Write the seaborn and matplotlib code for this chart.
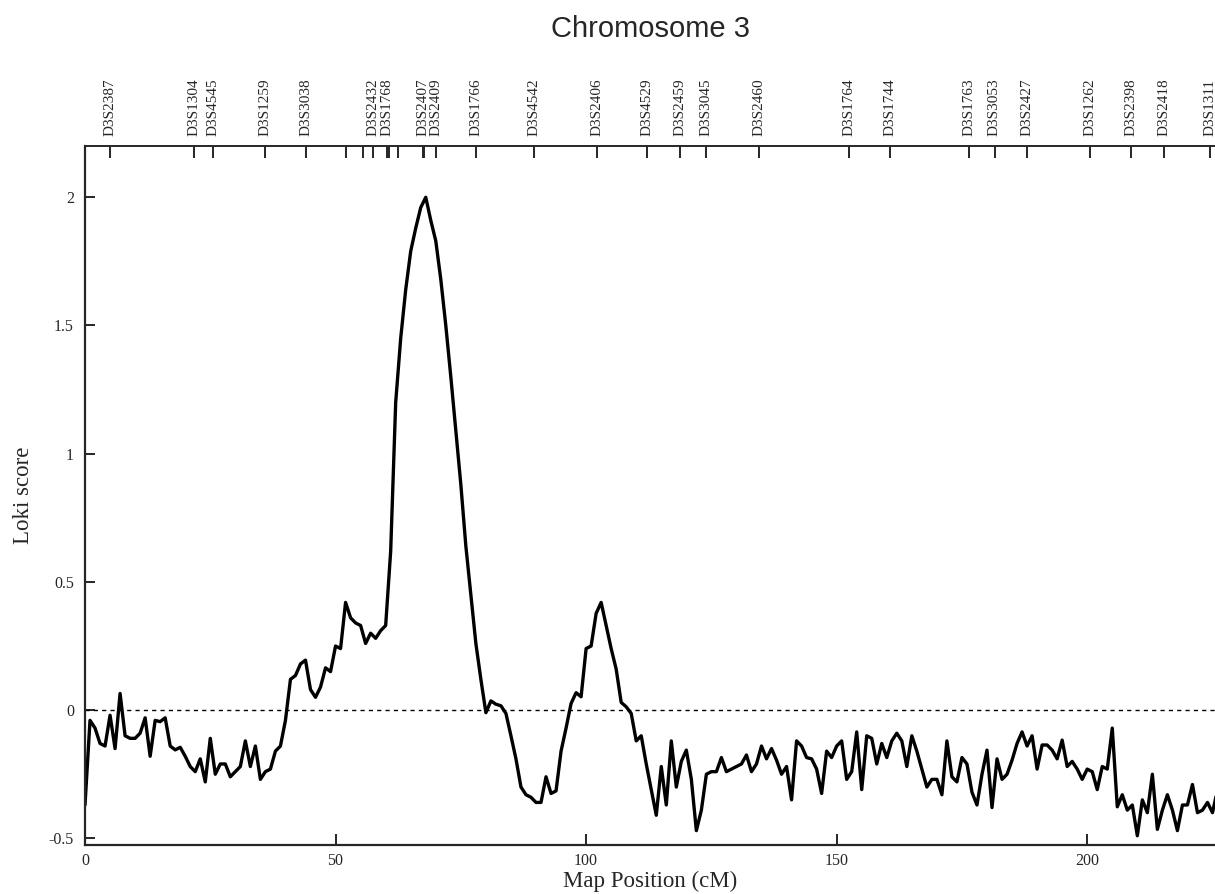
import numpy as np
import pandas as pd
import matplotlib
matplotlib.use("Agg")
import matplotlib.pyplot as plt
import seaborn as sns

# map positions (cM), one score per cM
map_pos = np.arange(0, 227)
loki_score = [
    -0.37, -0.04, -0.07, -0.13, -0.14, -0.02, -0.15, 0.065, -0.10, -0.11,
    -0.11, -0.09, -0.03, -0.18, -0.04, -0.045, -0.03, -0.14, -0.155, -0.145,
    -0.18, -0.22, -0.24, -0.19, -0.28, -0.11, -0.25, -0.21, -0.21, -0.26,
    -0.24, -0.22, -0.12, -0.22, -0.14, -0.27, -0.24, -0.23, -0.16, -0.14,
    -0.04, 0.12, 0.135, 0.18, 0.195, 0.08, 0.05, 0.09, 0.165, 0.15,
    0.25, 0.24, 0.42, 0.36, 0.34, 0.33, 0.26, 0.30, 0.28, 0.31,
    0.33, 0.62, 1.20, 1.45, 1.64, 1.79, 1.88, 1.96, 2.00, 1.91,
    1.83, 1.68, 1.50, 1.30, 1.09, 0.88, 0.64, 0.45, 0.26, 0.12,
    -0.01, 0.036, 0.023, 0.017, -0.013, -0.10, -0.19, -0.30, -0.33, -0.34,
    -0.36, -0.36, -0.26, -0.325, -0.315, -0.16, -0.07, 0.026, 0.068, 0.052,
    0.24, 0.25, 0.377, 0.42, 0.33, 0.24, 0.16, 0.03, 0.013, -0.013,
    -0.12, -0.10, -0.21, -0.31, -0.41, -0.22, -0.37, -0.12, -0.30, -0.20,
    -0.156, -0.27, -0.47, -0.39, -0.25, -0.24, -0.24, -0.185, -0.24, -0.23,
    -0.22, -0.21, -0.175, -0.24, -0.21, -0.14, -0.19, -0.15, -0.195, -0.25,
    -0.22, -0.35, -0.12, -0.14, -0.185, -0.19, -0.23, -0.325, -0.16, -0.185,
    -0.14, -0.12, -0.27, -0.24, -0.085, -0.31, -0.10, -0.11, -0.21, -0.13,
    -0.185, -0.12, -0.09, -0.12, -0.22, -0.10, -0.16, -0.23, -0.30, -0.27,
    -0.27, -0.33, -0.12, -0.26, -0.28, -0.185, -0.21, -0.32, -0.37, -0.25,
    -0.156, -0.38, -0.19, -0.27, -0.25, -0.195, -0.13, -0.085, -0.14, -0.10,
    -0.23, -0.136, -0.136, -0.156, -0.19, -0.117, -0.22, -0.20, -0.23, -0.27,
    -0.23, -0.24, -0.31, -0.22, -0.23, -0.07, -0.377, -0.33, -0.39, -0.37,
    -0.49, -0.35, -0.40, -0.25, -0.465, -0.39, -0.33, -0.39, -0.47, -0.37,
    -0.37, -0.29, -0.40, -0.39, -0.36, -0.40, -0.31,
]

# markers along the top (empty name = tick only)
marker_names = [
    "D3S2387", "D3S1304", "D3S4545", "D3S1259", "D3S3038", "", "",
    "D3S2432", "D3S1768", "", "", "D3S2407", "", "D3S2409", "D3S1766",
    "D3S4542", "D3S2406", "D3S4529", "D3S2459", "D3S3045", "D3S2460",
    "D3S1764", "D3S1744", "D3S1763", "D3S3053", "D3S2427", "D3S1262",
    "D3S2398", "D3S2418", "D3S1311",
]
marker_pos = [
    5.0, 21.7, 25.6, 35.9, 44.2, 52.1, 55.4,
    57.4, 60.3, 60.7, 62.5, 67.4, 67.7, 70.0, 78.0,
    89.6, 102.2, 112.2, 118.8, 123.9, 134.5,
    152.5, 160.7, 176.4, 181.5, 188.0, 200.6,
    208.8, 215.4, 224.5,
]

x_ticks = [0, 50, 100, 150, 200]
y_ticks = [-0.5, 0, 0.5, 1, 1.5, 2]
y_tick_labels = ["-0.5", "0", "0.5", "1", "1.5", "2"]


def main():
    sns.set_style("ticks")
    plt.rcParams["font.family"] = ["Liberation Serif", "DejaVu Serif"]

    df = pd.DataFrame({"pos": map_pos, "score": loki_score})

    fig = plt.figure(figsize=(12.15, 8.94), dpi=100)
    ax = fig.add_axes([0.06996, 0.05481, 0.93004, 0.78188])

    ax.axhline(0, color="black", lw=1.0, ls=(0, (3, 3)), zorder=1)
    sns.lineplot(data=df, x="pos", y="score", ax=ax, color="black",
                 linewidth=2.4, zorder=2)

    ax.set_xlim(0, 225.5)
    ax.set_ylim(-0.526, 2.2)
    ax.set_xticks(x_ticks)
    ax.set_yticks(y_ticks)
    ax.set_yticklabels(y_tick_labels)
    ax.tick_params(axis="x", direction="in", length=8, width=1.4,
                   labelsize=11.5, pad=6)
    ax.tick_params(axis="y", direction="in", length=7, width=1.4,
                   labelsize=11.5, pad=8)

    for side in ["left", "bottom"]:
        ax.spines[side].set_linewidth(1.6)
    ax.spines["right"].set_visible(False)
    ax.spines["top"].set_linewidth(1.2)

    ax.set_xlabel("Map Position (cM)", fontsize=16.5)
    ax.set_ylabel("Loki score", fontsize=16.5)
    ax.xaxis.set_label_coords(0.5, -0.037)
    ax.yaxis.set_label_coords(-0.045, 0.5)

    # marker ticks on top
    top = ax.twiny()
    top.set_xlim(ax.get_xlim())
    top.set_xticks(marker_pos)
    top.set_xticklabels(marker_names, rotation=90, fontsize=11)
    top.tick_params(axis="x", direction="in", length=8.5, width=1.4, pad=7)
    for side in ["left", "bottom", "right"]:
        top.spines[side].set_visible(False)
    top.spines["top"].set_linewidth(1.2)

    ax.set_title("Chromosome 3", fontsize=21, family=["Liberation Sans", "DejaVu Sans"],
                 y=1.156, va="baseline", pad=0)

    fig.savefig("out.png", dpi=100)


if __name__ == "__main__":
    main()
